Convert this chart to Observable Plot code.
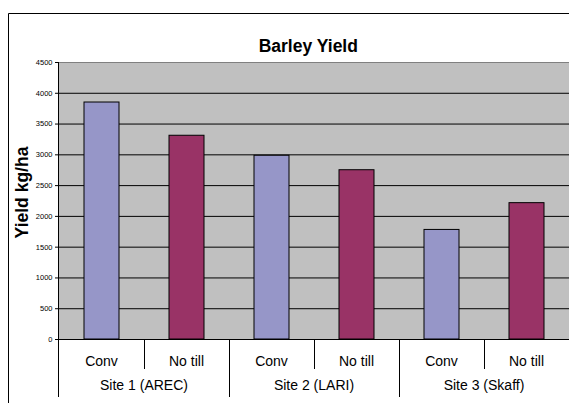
<!DOCTYPE html>
<html>
<head>
<meta charset="utf-8">
<script src="https://cdn.jsdelivr.net/npm/d3@7"></script>
<script src="https://cdn.jsdelivr.net/npm/@observablehq/plot@0.6"></script>
<style>
  html, body { margin: 0; padding: 0; background: #fff; overflow: hidden; }
  #chart { width: 569px; height: 403px; overflow: hidden; }
  #chart svg { display: block; }
</style>
</head>
<body>
<div id="chart"></div>
<script>
const sites = ["Site 1 (AREC)", "Site 2 (LARI)", "Site 3 (Skaff)"];
const treatments = ["Conv", "No till"];
const convYield = [3850, 2985, 1780];
const noTillYield = [3310, 2750, 2215];
const yTicks = [0, 500, 1000, 1500, 2000, 2500, 3000, 3500, 4000, 4500];
const seriesColors = ["#9696c8", "#993366"];
const chartTitle = "Barley Yield";
const yAxisTitle = "Yield kg/ha";

const rows = sites.flatMap((site, i) => [
  {site, treatment: treatments[0], key: site + "|" + treatments[0], value: convYield[i]},
  {site, treatment: treatments[1], key: site + "|" + treatments[1], value: noTillYield[i]}
]);
const keys = rows.map(d => d.key);
const font = "'Liberation Sans', Arial, sans-serif";

const plot = Plot.plot({
  width: 569,
  height: 403,
  marginLeft: 58,
  marginRight: 0,
  marginTop: 62,
  marginBottom: 64,
  style: {background: "#fff", fontFamily: font, color: "#000", overflow: "hidden"},
  x: {type: "band", domain: keys, padding: 0, axis: null},
  y: {domain: [0, 4500], axis: null},
  color: {domain: treatments, range: seriesColors},
  marks: [
    Plot.frame({fill: "#c0c0c0", stroke: null}),
    Plot.ruleY(yTicks.filter(v => v > 0 && v < 4500), {stroke: "#000", strokeWidth: 1}),
    Plot.ruleY([4500], {stroke: "#808080", strokeWidth: 1}),
    Plot.barY(rows, {x: "key", y: "value", fill: "treatment", stroke: "#000", strokeWidth: 1, insetLeft: 25, insetRight: 25}),
    Plot.ruleY([0], {stroke: "#000", strokeWidth: 1}),
    Plot.axisY({ticks: yTicks, tickSize: 3, tickPadding: 3, fontSize: 7.5, tickFormat: d => String(d), label: null, stroke: "#000"}),
    Plot.text([yAxisTitle], {frameAnchor: "left", textAnchor: "middle", lineAnchor: "middle", rotate: -90, dx: -36, dy: -8.5, fontSize: 17.5, fontWeight: "bold", fill: "#000"}),
    Plot.text([chartTitle], {frameAnchor: "top", textAnchor: "middle", lineAnchor: "middle", dx: -5.7, dy: -16, fontSize: 17.5, fontWeight: "bold", fill: "#000"})
  ]
});

document.getElementById("chart").appendChild(plot);

// Category axis (two levels) and chart border, positioned with Plot's own scales
const svg = d3.select(plot);
const xs = plot.scale("x");
const ys = plot.scale("y");
const bw = xs.bandwidth;
const xLeft = xs.range[0];
const yBase = ys.apply(0);
const yTop = ys.apply(4500);
const g = svg.append("g").attr("font-family", font).attr("fill", "#000");

// chart area border (top and left edges visible in the crop)
g.append("line").attr("x1", 8.5).attr("x2", 569).attr("y1", 13.5).attr("y2", 13.5).attr("stroke", "#000");
g.append("line").attr("x1", 8.5).attr("x2", 8.5).attr("y1", 13.5).attr("y2", 403).attr("stroke", "#000");

// value axis line, extended through the category axis
g.append("line")
  .attr("x1", xLeft + 0.5).attr("x2", xLeft + 0.5)
  .attr("y1", yTop).attr("y2", yBase + 58)
  .attr("stroke", "#000");

rows.forEach((d, i) => {
  const start = xs.apply(d.key);
  if (i > 0) {
    const isSiteStart = d.treatment === treatments[0];
    g.append("line")
      .attr("x1", Math.round(start) + 0.5).attr("x2", Math.round(start) + 0.5)
      .attr("y1", yBase).attr("y2", yBase + (isSiteStart ? 58 : 30))
      .attr("stroke", "#000");
  }
  g.append("text")
    .attr("x", start + bw / 2).attr("y", yBase + 27)
    .attr("text-anchor", "middle").attr("font-size", 14)
    .text(d.treatment);
  if (d.treatment === treatments[0]) {
    g.append("text")
      .attr("x", start + bw).attr("y", yBase + 51)
      .attr("text-anchor", "middle").attr("font-size", 14)
      .text(d.site);
  }
});
</script>
</body>
</html>
